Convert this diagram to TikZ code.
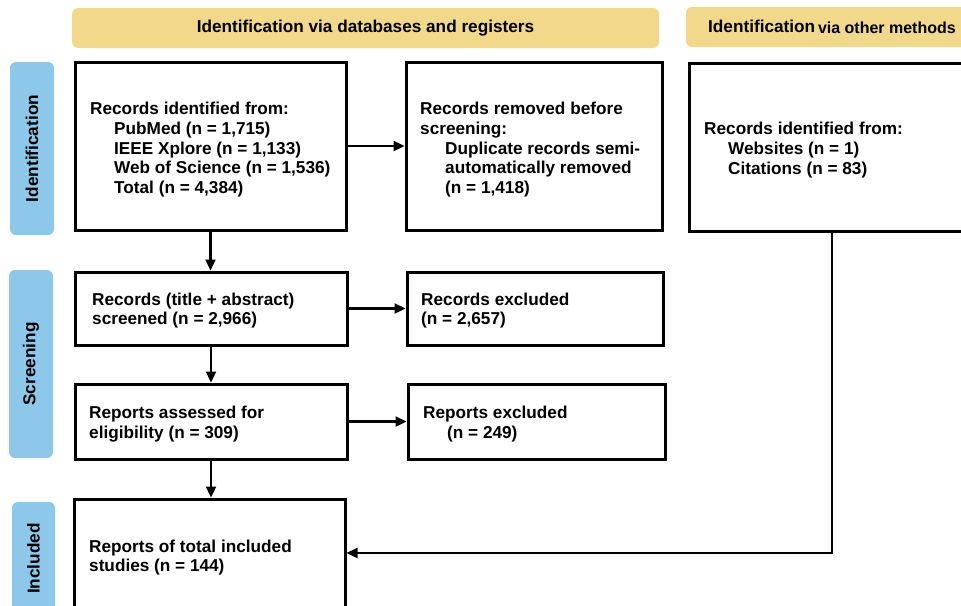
\documentclass[tikz,border=0pt]{standalone}
\usepackage{fontspec}
\setmainfont{Liberation Sans}
\usetikzlibrary{arrows.meta}

\definecolor{headyellow}{RGB}{242,216,138}
\definecolor{tabblue}{RGB}{141,199,234}

\tikzset{
  header/.style={fill=headyellow, draw=none, rounded corners=6pt, inner sep=0pt},
  tab/.style={fill=tabblue, draw=none, rounded corners=6pt, rotate=90, inner sep=0pt,
              font=\fontsize{17.2}{19.6}\selectfont\bfseries},
  box/.style={draw=black, line width=3pt, fill=white, inner sep=0pt},
  txt/.style={anchor=west, align=left, inner sep=0pt,
              font=\fontsize{17.2}{19.6}\selectfont\bfseries},
  arr/.style={line width=2.3pt, -{Triangle[length=11pt,width=10pt]}},
}
\newcommand{\ind}{\hspace*{24pt}}

\begin{document}
\begin{tikzpicture}[x=1pt, y=-1pt]
  \clip (0,0) rectangle (961,605);
  \fill[white] (0,0) rectangle (961,605);

  % column headers
  \node[header, minimum width=587pt, minimum height=40pt] (hdb) at (365.5,28)
    {\fontsize{17.2}{19.6}\selectfont\bfseries Identification via databases and registers};
  \node[header, minimum width=292pt, minimum height=40pt] (hot) at (832,27)
    {\bfseries\raisebox{1pt}{\fontsize{17.2}{19.6}\selectfont Identification} {\fontsize{16}{19}\selectfont via other methods}};

  % phase tabs
  \node[tab, minimum width=173pt, minimum height=44pt] (tid) at (32,148.5) {Identification};
  \node[tab, minimum width=188pt, minimum height=44pt] (tsc) at (31,364) {Screening};
  \node[tab, minimum width=113pt, minimum height=43pt] (tin) at (33.5,558.5) {Included};

  % boxes
  \node[box, minimum width=271pt, minimum height=168pt] (b1) at (210.5,146) {};
  \node[box, minimum width=256pt, minimum height=168pt] (b2) at (534,146) {};
  \node[box, minimum width=286pt, minimum height=168pt] (b3) at (832,147) {};
  \node[box, minimum width=272pt, minimum height=73pt] (b4) at (211,308.5) {};
  \node[box, minimum width=256pt, minimum height=73pt] (b5) at (535,308.5) {};
  \node[box, minimum width=272pt, minimum height=75pt] (b6) at (211,421.5) {};
  \node[box, minimum width=257pt, minimum height=75pt] (b7) at (536.5,421.5) {};
  \node[box, minimum width=271pt, minimum height=141pt] (b8) at (209.5,569.5) {};

  % box texts
  \node[txt] (t1) at (90,149.6) {Records identified from:\\
    \ind PubMed (n = 1,715)\\
    \ind IEEE Xplore (n = 1,133)\\
    \ind Web of Science (n = 1,536)\\
    \ind Total (n = 4,384)};
  \node[txt] (t2) at (420,149.6) {Records removed before\\
    screening:\\
    \hspace*{25pt}Duplicate records semi-\\
    \hspace*{25pt}automatically removed\\
    \hspace*{25pt}(n = 1,418)};
  \node[txt] (t3) at (704,150.1) {Records identified from:\\
    \ind Websites (n = 1)\\
    \ind Citations (n = 83)};
  \node[txt] (t4) at (92,310.6) {Records (title + abstract)\\screened (n = 2,966)};
  \node[txt] (t5) at (421,310.6) {Records excluded\\(n = 2,657)};
  \node[txt] (t6) at (89,424.1) {Reports assessed for\\eligibility (n = 309)};
  \node[txt] (t7) at (423,424.1) {Reports excluded\\\ind(n = 249)};
  \node[txt] (t8) at (89,557.5) {Reports of total included\\studies (n = 144)};

  % connectors
  \coordinate (bend) at (832,553);
  \draw[arr] (b1.east) -- (b2.west);
  \draw[arr] (b1.south) -- (b1.south |- b4.north);
  \draw[arr] (b4.east) -- (b5.west);
  \draw[arr] (b4.south) -- (b4.south |- b6.north);
  \draw[arr] (b6.east) -- (b7.west);
  \draw[arr] (b6.south) -- (b6.south |- b8.north);
  \draw[arr] (b3.south) -- (bend) -- (b8.east |- bend);
\end{tikzpicture}
\end{document}
